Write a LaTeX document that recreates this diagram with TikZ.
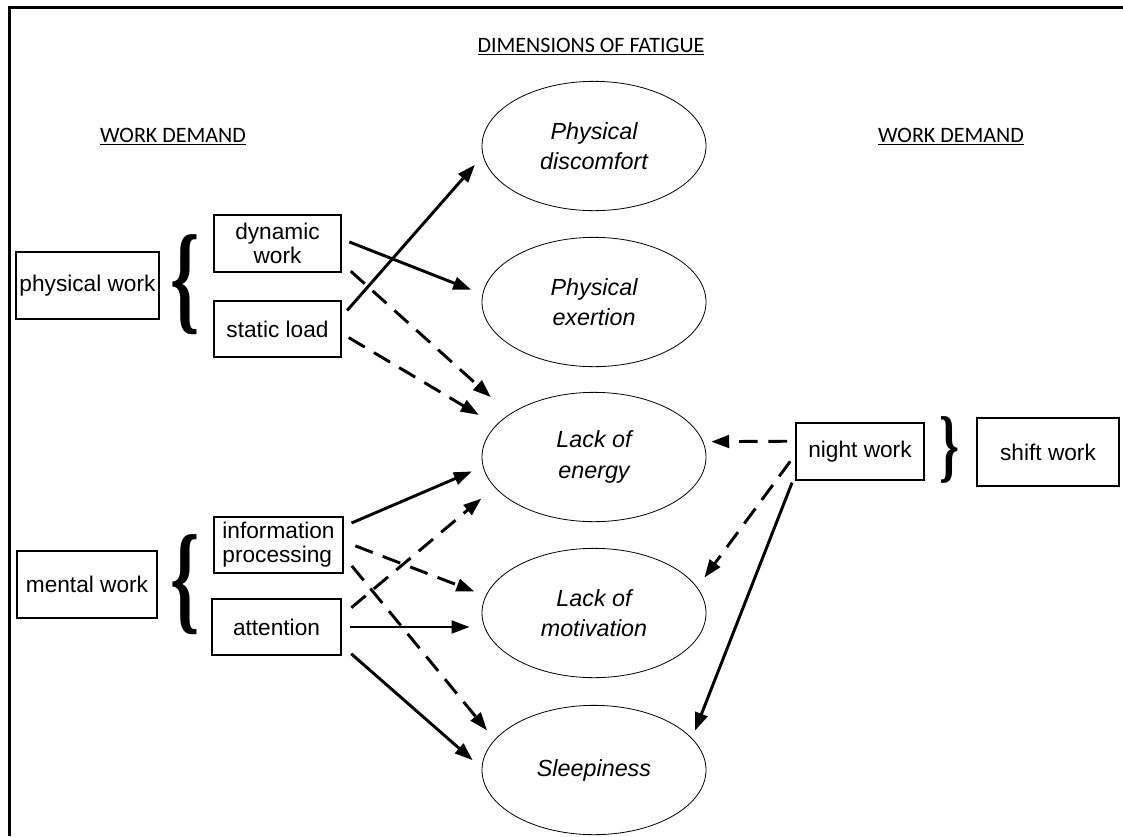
\documentclass[tikz,border=0pt]{standalone}
\usepackage{fontspec}
\setmainfont{Liberation Sans}
\newfontfamily\headfont{Carlito}
\newfontfamily\bracefont{Liberation Serif}
\usetikzlibrary{shapes.geometric,arrows.meta}

\begin{document}
\begin{tikzpicture}[x=0.75pt,y=0.75pt,yscale=-1,xscale=1,
  demandbox/.style={draw,line width=1.5pt,inner sep=0.75pt,align=center,font=\fontsize{17}{18}\selectfont},
  dimension/.style={draw,ellipse,line width=0.6pt,minimum width=168pt,minimum height=97pt,inner sep=0pt,align=center,font=\fontsize{17.5}{23}\selectfont\itshape},
  heading/.style={inner sep=0.75pt,font=\headfont\fontsize{16.5}{18}\selectfont},
  effect/.style={line width=2.2pt,-{Triangle[length=13.5pt,width=9.5pt]},shorten <=6pt,shorten >=9pt},
  dashedeffect/.style={effect,dash pattern=on 14pt off 8pt}]

\useasboundingbox (0,0) rectangle (1123,836);

% frame
\draw[line width=2.25pt] (9,836) -- (9,7) -- (1123,7);

% headings
\node[heading] (dimTitle) at (591,47) {\underline{DIMENSIONS OF FATIGUE}};
\node[heading] (leftTitle) at (173,137) {\underline{WORK DEMAND}};
\node[heading] (rightTitle) at (951,137) {\underline{WORK DEMAND}};

% dimensions of fatigue
\node[dimension] (physDisc) at (594,146) {Physical\\discomfort};
\node[dimension] (physExert) at (594,302) {Physical\\exertion};
\node[dimension] (lackEnergy) at (594,457) {Lack of\\energy};
\node[dimension] (lackMotiv) at (594,613) {Lack of\\motivation};
\node[dimension] (sleep) at (594,770) {Sleepiness};

% work demands, left
\node[demandbox,minimum width=107pt,minimum height=50pt] (physWork) at (87.5,285.5) {physical work};
\node[demandbox,minimum width=95pt,minimum height=43pt] (dynWork) at (277.5,243.5) {dynamic\\work};
\node[demandbox,minimum width=95pt,minimum height=42pt] (statLoad) at (277.5,329) {static load};
\node[demandbox,minimum width=105pt,minimum height=50pt] (mentWork) at (87,584.5) {mental work};
\node[demandbox,minimum width=97pt,minimum height=42pt,align=left] (infoProc) at (278.5,545) {information\\processing};
\node[demandbox,minimum width=97pt,minimum height=42pt] (attn) at (276.5,627) {attention};

% work demands, right
\node[demandbox,minimum width=96pt,minimum height=43pt] (nightWork) at (860,451.5) {night work};
\node[demandbox,minimum width=106.5pt,minimum height=51pt] (shiftWork) at (1048,452) {shift work};

% braces
\node[inner sep=0pt] (physBrace) at (185,285) {\resizebox*{22pt}{75pt}{\bracefont\bfseries\{}};
\node[inner sep=0pt] (mentBrace) at (185,585) {\resizebox*{22pt}{75pt}{\bracefont\bfseries\{}};
\node[inner sep=0pt] (shiftBrace) at (949,450) {\resizebox*{15pt}{50pt}{\bracefont\bfseries\}}};

% effects
\draw[effect] (statLoad.11) -- (physDisc.185);
\draw[effect] (dynWork.4) -- (physExert.176);
\draw[dashedeffect,shorten <=9pt,shorten >=19pt] (dynWork.-17) -- (lackEnergy.153);
\draw[dashedeffect,shorten >=15pt] (statLoad.-4) -- (lackEnergy.162);
\draw[effect] (infoProc.16) -- (lackEnergy.185);
\draw[dashedeffect,shorten <=9pt,shorten >=13pt] (attn.10) -- (lackEnergy.197);
\draw[dashedeffect,shorten <=9pt] (infoProc.3) -- (lackMotiv.171);
\draw[dashedeffect,shorten <=9pt] (infoProc.-10) -- (sleep.163);
\draw[effect] (attn.east) -- (attn.east -| lackMotiv.west);
\draw[effect,shorten <=9pt] (attn.-16) -- (sleep.179);
\draw[dashedeffect,shorten >=6pt] (nightWork.171) -- (lackEnergy.8);
\draw[dashedeffect] (nightWork.183) -- (lackMotiv.14);
\draw[effect,shorten >=6pt] (nightWork.200) -- (sleep.18);

\end{tikzpicture}
\end{document}
